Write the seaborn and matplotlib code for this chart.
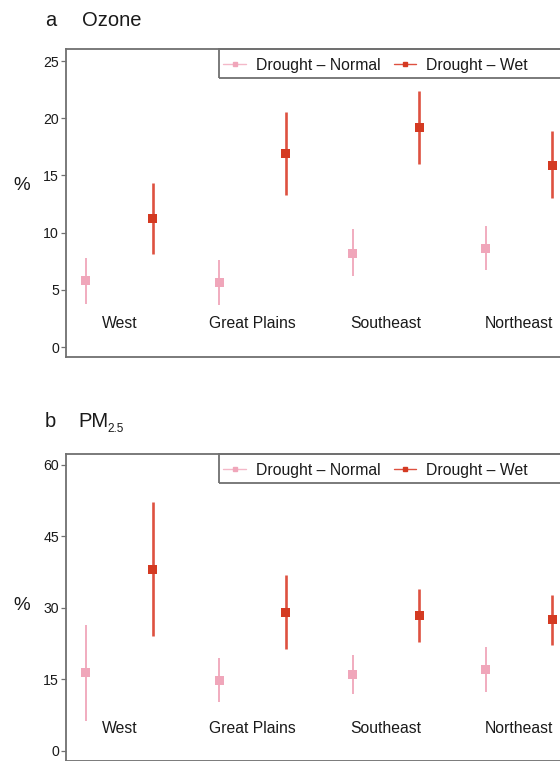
import numpy as np
import pandas as pd
import matplotlib
matplotlib.use("Agg")
import matplotlib.pyplot as plt
import matplotlib.transforms as mtransforms
from matplotlib.lines import Line2D
from matplotlib.patches import Rectangle
import seaborn as sns

# ---------------- data ----------------
regions = ["West", "Great Plains", "Southeast", "Northeast"]
series = ["Drought – Normal", "Drought – Wet"]

ozone_normal = [5.8, 5.6, 8.2, 8.6]
ozone_normal_lo = [3.8, 3.7, 6.2, 6.7]
ozone_normal_hi = [7.8, 7.6, 10.3, 10.6]
ozone_wet = [11.2, 16.9, 19.2, 15.9]
ozone_wet_lo = [8.1, 13.3, 16.0, 13.0]
ozone_wet_hi = [14.3, 20.5, 22.4, 18.9]

pm_normal = [16.5, 14.8, 16.0, 17.1]
pm_normal_lo = [6.3, 10.3, 12.0, 12.4]
pm_normal_hi = [26.5, 19.5, 20.1, 21.8]
pm_wet = [38.1, 29.1, 28.4, 27.6]
pm_wet_lo = [24.1, 21.3, 22.8, 22.3]
pm_wet_hi = [52.2, 37.0, 33.9, 32.8]

ozone_ticks = [0, 5, 10, 15, 20, 25]
pm_ticks = [0, 15, 30, 45, 60]

# ---------------- style ----------------
sns.set_theme(style="white")
plt.rcParams["font.family"] = ["Liberation Sans", "DejaVu Sans"]

PINK = "#F0A6BA"
RED = "#D43A22"
RED_BAR = "#DE5140"
SPINE = "#707070"
TXT = "#1a1a1a"


def make_df(n, nlo, nhi, w, wlo, whi):
    rows = []
    for i, r in enumerate(regions):
        rows.append(dict(region=r, series=series[0], pos=2 * i, val=n[i], lo=nlo[i], hi=nhi[i]))
        rows.append(dict(region=r, series=series[1], pos=2 * i + 1, val=w[i], lo=wlo[i], hi=whi[i]))
    return pd.DataFrame(rows)


df_o = make_df(ozone_normal, ozone_normal_lo, ozone_normal_hi,
               ozone_wet, ozone_wet_lo, ozone_wet_hi)
df_p = make_df(pm_normal, pm_normal_lo, pm_normal_hi,
               pm_wet, pm_wet_lo, pm_wet_hi)

fig = plt.figure(figsize=(5.6, 7.61), dpi=100)
W, H = 560, 761


def px_axes(left, top, right, bottom):
    return fig.add_axes([left / W, 1 - bottom / H, (right - left) / W, (bottom - top) / H])


AX_L, AX_R = 66, 572.4
ax1 = px_axes(AX_L, 49, AX_R, 357)
ax2 = px_axes(AX_L, 454, AX_R, 760.7)


def draw(ax, df, ylim, ticks, label_y, ax_h_px):
    palette = {series[0]: PINK, series[1]: RED}
    bar_cols = {series[0]: PINK, series[1]: RED_BAR}
    bar_lw = {series[0]: 1.3, series[1]: 1.9}
    for s in series:
        sub = df[df.series == s]
        ax.vlines(sub.pos, sub.lo, sub.hi, colors=bar_cols[s], linewidth=bar_lw[s], zorder=2)
    sns.scatterplot(data=df, x="pos", y="val", hue="series", palette=palette,
                    marker="s", s=42, linewidth=0, legend=False, ax=ax, zorder=3)
    ax.set_xlim(-0.3, 7.3)
    ax.set_ylim(*ylim)
    ax.set_yticks(ticks)
    ax.set_yticklabels([str(t) for t in ticks], fontsize=10.2, color=TXT)
    ax.set_xticks([])
    ax.set_xlabel("")
    ax.set_ylabel("")
    ax.tick_params(axis="y", left=True, length=3.5, width=0.9, color=SPINE, pad=1.5)
    for side in ["left", "top", "bottom", "right"]:
        ax.spines[side].set_color(SPINE)
        ax.spines[side].set_linewidth(1.3)
    trans = mtransforms.blended_transform_factory(ax.transData, ax.transAxes)
    for i, r in enumerate(regions):
        ax.text(2 * i + 0.5, label_y, r, transform=trans, ha="center", va="center",
                fontsize=11.3, color=TXT)
    handles = [Line2D([0], [0], color="#F4B8C8", marker="s", markersize=3.2,
                      markerfacecolor=PINK, markeredgecolor=PINK, linewidth=1.0),
               Line2D([0], [0], color=RED_BAR, marker="s", markersize=3.2,
                      markerfacecolor=RED, markeredgecolor=RED, linewidth=1.0)]
    box_x0 = (219.3 - AX_L) / (AX_R - AX_L)
    leg_x0 = (216.3 - AX_L) / (AX_R - AX_L)
    leg = ax.legend(handles, series, loc="upper left",
                    bbox_to_anchor=(leg_x0, 1.0 - 1.5 / ax_h_px),
                    ncol=2, frameon=False,
                    fontsize=11.3, borderaxespad=0, borderpad=0.45,
                    handlelength=1.45, handletextpad=0.6, columnspacing=0.85)
    for t in leg.get_texts():
        t.set_color(TXT)
    # legend box running past the right edge of the figure, as in the source
    box_h = 29.3 / ax_h_px
    ax.add_patch(Rectangle((box_x0, 1 - box_h), 1.2, box_h, transform=ax.transAxes,
                           fill=False, edgecolor=SPINE, linewidth=1.3, clip_on=False,
                           zorder=5))


draw(ax1, df_o, (-0.87, 26.05), ozone_ticks, 0.108, 308)
draw(ax2, df_p, (-2.1, 62.31), pm_ticks, 0.104, 306.7)

# titles
fig.text(45 / W, 1 - 26 / H, "a", fontsize=14.5, color=TXT, ha="left", va="baseline")
fig.text(82 / W, 1 - 26 / H, "Ozone", fontsize=14.5, color=TXT, ha="left", va="baseline")
fig.text(45 / W, 1 - 427 / H, "b", fontsize=14.5, color=TXT, ha="left", va="baseline")
fig.text(78 / W, 1 - 427 / H, "PM", fontsize=14.5, color=TXT, ha="left", va="baseline")
fig.text(107.5 / W, 1 - 432.5 / H, "2.5", fontsize=8.5, color=TXT, ha="left", va="baseline")

# y labels
fig.text(22 / W, 1 - 186 / H, "%", fontsize=13.5, color=TXT, ha="center", va="center")
fig.text(22 / W, 1 - 606 / H, "%", fontsize=13.5, color=TXT, ha="center", va="center")

fig.savefig("out.png", dpi=100)
